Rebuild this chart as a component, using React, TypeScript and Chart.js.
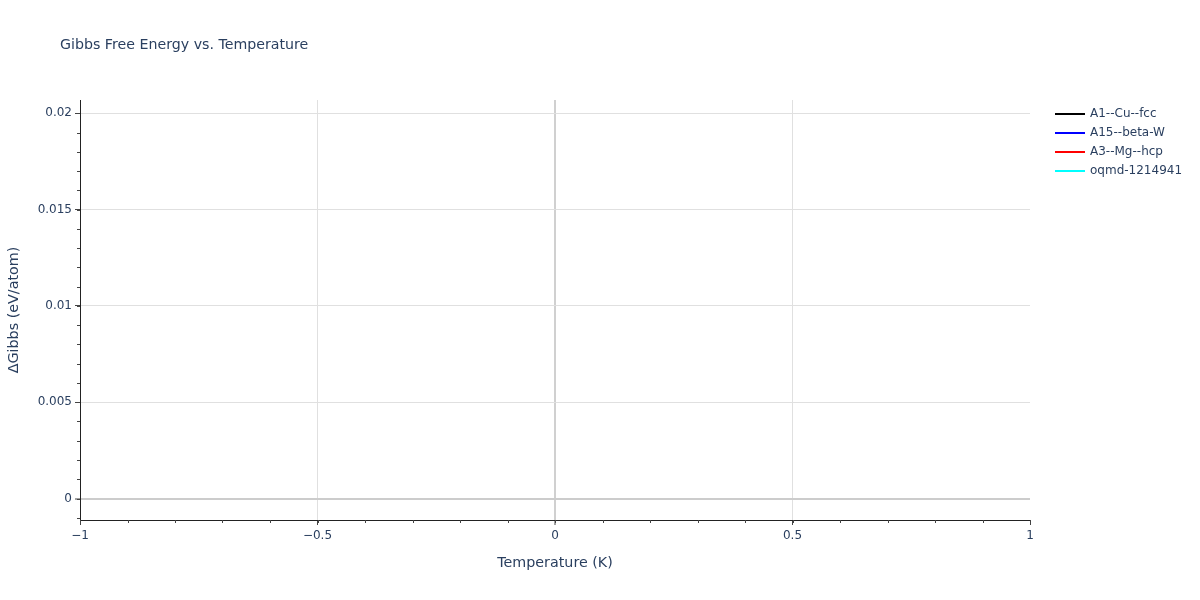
import { useEffect, useRef } from "react";
import Chart from "chart.js/auto";

const seriesNames = ["A1--Cu--fcc", "A15--beta-W", "A3--Mg--hcp", "oqmd-1214941"];
const seriesColors = ["#000000", "#0000ff", "#ff0000", "#00ffff"];
// every structure sits at T = 0 K with ΔG = 0, so the traces collapse to one point
const temperatures = [0];
const gibbsA1 = [0];
const gibbsA15 = [0];
const gibbsA3 = [0];
const gibbsOqmd = [0];

const xTicks = [-1, -0.5, 0, 0.5, 1];
const yTicks = [0, 0.005, 0.01, 0.015, 0.02];

const TEXT = "#2a3f5f";
const FONT = '"DejaVu Sans", Verdana, sans-serif';

const fmt = (v: number) => (v < 0 ? "\u2212" : "") + String(Math.abs(v));

// title, legend and minor ticks drawn on top of the chart
const overlay = {
  id: "overlay",
  afterDraw(chart: any) {
    const { ctx, chartArea, scales } = chart;
    const x = scales.x;
    const y = scales.y;
    ctx.save();

    ctx.strokeStyle = "#444";
    ctx.lineWidth = 1;
    ctx.beginPath();
    for (let i = Math.ceil(x.min / 0.1); i <= Math.floor(x.max / 0.1); i++) {
      const px = Math.round(x.getPixelForValue(i * 0.1)) + 0.5;
      ctx.moveTo(px, chartArea.bottom);
      ctx.lineTo(px, chartArea.bottom + 3);
    }
    for (let i = Math.ceil(y.min / 0.001); i <= Math.floor(y.max / 0.001); i++) {
      const py = Math.round(y.getPixelForValue(i * 0.001)) + 0.5;
      ctx.moveTo(chartArea.left, py);
      ctx.lineTo(chartArea.left - 3, py);
    }
    ctx.stroke();

    ctx.fillStyle = TEXT;
    ctx.textBaseline = "middle";
    ctx.textAlign = "left";
    ctx.font = `14.2px ${FONT}`;
    ctx.fillText("Gibbs Free Energy vs. Temperature", 60, 45);

    ctx.font = `12px ${FONT}`;
    seriesNames.forEach((name, i) => {
      const ly = 114 + i * 19;
      ctx.strokeStyle = seriesColors[i];
      ctx.lineWidth = 2;
      ctx.beginPath();
      ctx.moveTo(1055, ly);
      ctx.lineTo(1085, ly);
      ctx.stroke();
      ctx.fillStyle = TEXT;
      ctx.fillText(name, 1090, ly);
    });

    ctx.restore();
  },
};

const App = () => {
  const chartRef = useRef<HTMLCanvasElement | null>(null);
  const chartInstance = useRef<Chart | null>(null);

  useEffect(() => {
    if (!chartRef.current) return;
    if (chartInstance.current) chartInstance.current.destroy();

    const values = [gibbsA1, gibbsA15, gibbsA3, gibbsOqmd];

    chartInstance.current = new Chart(chartRef.current, {
      type: "line",
      data: {
        datasets: seriesNames.map((name, i) => ({
          label: name,
          data: temperatures.map((t, j) => ({ x: t, y: values[i][j] })),
          borderColor: seriesColors[i],
          backgroundColor: seriesColors[i],
          borderWidth: 2,
          pointRadius: 0,
        })),
      },
      options: {
        animation: false,
        responsive: false,
        layout: { padding: { top: 100, right: 170, left: 0, bottom: 0 } },
        plugins: {
          legend: { display: false },
          title: { display: false },
          tooltip: { enabled: false },
        },
        scales: {
          x: {
            type: "linear",
            min: -1,
            max: 1,
            afterFit: (s: any) => {
              s.height = 80;
            },
            afterBuildTicks: (s: any) => {
              s.ticks = xTicks.map((v) => ({ value: v }));
            },
            ticks: {
              color: TEXT,
              font: { family: FONT, size: 12 },
              padding: 4,
              maxRotation: 0,
              autoSkip: false,
              callback: (v: any) => fmt(Number(v)),
            },
            grid: {
              color: (c: any) =>
                c.tick && c.tick.value === 1 ? "rgba(0,0,0,0)" : c.tick && c.tick.value === 0 ? "#d0d0d0" : "#e0e0e0",
              lineWidth: (c: any) => (c.tick && c.tick.value === 0 ? 2 : 1),
              tickColor: "#444",
              tickWidth: 1,
              tickLength: 5,
            },
            border: { display: true, color: "#222", width: 1 },
            title: {
              display: true,
              text: "Temperature (K)",
              color: TEXT,
              font: { family: FONT, size: 14.3 },
              padding: { top: 0, bottom: 28 },
            },
          },
          y: {
            type: "linear",
            min: -0.001116,
            max: 0.02069,
            afterFit: (s: any) => {
              s.width = 80;
            },
            afterBuildTicks: (s: any) => {
              s.ticks = yTicks.map((v) => ({ value: v }));
            },
            ticks: {
              color: TEXT,
              font: { family: FONT, size: 12 },
              padding: 3,
              autoSkip: false,
              callback: (v: any) => fmt(Number(v)),
            },
            grid: {
              color: (c: any) => (c.tick && c.tick.value === 0 ? "#cccccc" : "#e0e0e0"),
              lineWidth: (c: any) => (c.tick && c.tick.value === 0 ? 2 : 1),
              tickColor: "#444",
              tickWidth: 1,
              tickLength: 5,
            },
            border: { display: true, color: "#222", width: 1 },
            title: {
              display: true,
              text: "ΔGibbs (eV/atom)",
              color: TEXT,
              font: { family: FONT, size: 14.3 },
              padding: { top: 6, bottom: 0 },
            },
          },
        },
      },
      plugins: [overlay],
    });

    return () => {
      if (chartInstance.current) {
        chartInstance.current.destroy();
        chartInstance.current = null;
      }
    };
  }, []);

  return (
    <div style={{ position: "absolute", left: 0, top: 0, width: 1200, height: 600, background: "#fff" }}>
      <canvas ref={chartRef} width={1200} height={600} />
    </div>
  );
};

export default App;
